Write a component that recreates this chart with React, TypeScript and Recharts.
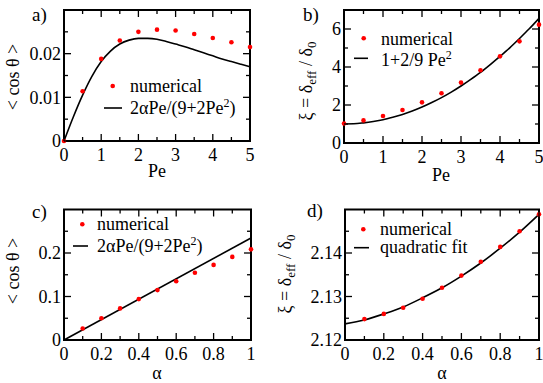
import React from 'react';
import { ComposedChart, Line, XAxis, YAxis, ReferenceArea } from 'recharts';

const FONT = 'Liberation Serif';
const RED = '#ff0000';

// a) <cos theta> against Pe
const peNum = [0, 0.5, 1, 1.5, 2, 2.5, 3, 3.5, 4, 4.5, 5];
const cosNumA = [0, 0.0114, 0.0188, 0.023, 0.025, 0.0255, 0.0253, 0.0245, 0.0236, 0.0226, 0.0215];
const peFit = [0, 0.25, 0.5, 0.75, 1, 1.25, 1.5, 1.75, 2, 2.25, 2.5, 2.75, 3, 3.25, 3.5, 3.75, 4, 4.25, 4.5, 4.75, 5];
const cosFitA = [0, 0.0055, 0.0105, 0.0148, 0.0182, 0.0206, 0.0222, 0.0231, 0.0235, 0.0235, 0.0233, 0.0228, 0.0222, 0.0216, 0.0209, 0.0202, 0.0195, 0.0188, 0.0182, 0.0176, 0.017];

// b) xi against Pe
const xiNumB = [1.03, 1.19, 1.42, 1.74, 2.14, 2.62, 3.18, 3.83, 4.56, 5.35, 6.23];
const xiFitB = [1, 1.01, 1.06, 1.13, 1.22, 1.35, 1.5, 1.68, 1.89, 2.13, 2.39, 2.68, 3, 3.35, 3.72, 4.13, 4.56, 5.01, 5.5, 6.01, 6.56];

// c) <cos theta> against alpha
const alphaNum = [0.1, 0.2, 0.3, 0.4, 0.5, 0.6, 0.7, 0.8, 0.9, 1];
const cosNumC = [0.0266, 0.05, 0.0727, 0.094, 0.1147, 0.135, 0.1545, 0.1727, 0.191, 0.2084];
const alphaFitC = [0, 1];
const cosFitC = [0, 0.2345];

// d) xi against alpha
const xiNumD = [2.1248, 2.126, 2.1274, 2.1295, 2.132, 2.1348, 2.138, 2.1414, 2.145, 2.1489];
const alphaFitD = [0, 0.1, 0.2, 0.3, 0.4, 0.5, 0.6, 0.7, 0.8, 0.9, 1];
const xiFitD = [2.1237, 2.1246, 2.126, 2.1276, 2.1297, 2.132, 2.1347, 2.1377, 2.1411, 2.1448, 2.1489];

// ticks
const peTicks = [0, 0.5, 1, 1.5, 2, 2.5, 3, 3.5, 4, 4.5, 5];
const peMajor = [0, 1, 2, 3, 4, 5];
const alphaTicks = [0, 0.1, 0.2, 0.3, 0.4, 0.5, 0.6, 0.7, 0.8, 0.9, 1];
const alphaMajor = [0, 0.2, 0.4, 0.6, 0.8, 1];
const cosTicksA = [0, 0.005, 0.01, 0.015, 0.02, 0.025];
const cosMajorA = [0, 0.01, 0.02];
const xiTicksB = [0, 1, 2, 3, 4, 5, 6];
const xiMajorB = [0, 2, 4, 6];
const cosTicksC = [0, 0.05, 0.1, 0.15, 0.2, 0.25];
const cosMajorC = [0, 0.1, 0.2];
const xiTicksD = [2.12, 2.125, 2.13, 2.135, 2.14, 2.145];
const xiMajorD = [2.12, 2.13, 2.14];

const rows = (xs: number[], ys: number[]) => xs.map((x, i) => ({ x, y: ys[i] }));
const isMajor = (arr: number[], v: number) => arr.some((m) => Math.abs(m - v) < 1e-9);

const XTick = (props: any) => {
  const { x, y, payload, ph, major } = props;
  const big = isMajor(major, payload.value);
  const len = big ? 7 : 4;
  return (
    <g>
      <line x1={x} y1={y} x2={x} y2={y - len} stroke="#000" strokeWidth={1.3} />
      <line x1={x} y1={y - ph} x2={x} y2={y - ph + len} stroke="#000" strokeWidth={1.3} />
      {big && (
        <text x={x} y={y + 20} textAnchor="middle" fontFamily={FONT} fontSize={18} fill="#000">
          {String(payload.value)}
        </text>
      )}
    </g>
  );
};

const YTick = (props: any) => {
  const { x, y, payload, pw, major } = props;
  const big = isMajor(major, payload.value);
  const len = big ? 7 : 4;
  return (
    <g>
      <line x1={x} y1={y} x2={x + len} y2={y} stroke="#000" strokeWidth={1.3} />
      <line x1={x + pw} y1={y} x2={x + pw - len} y2={y} stroke="#000" strokeWidth={1.3} />
      {big && (
        <text x={x - 3} y={y} dy="0.35em" textAnchor="end" fontFamily={FONT} fontSize={18} fill="#000">
          {String(payload.value)}
        </text>
      )}
    </g>
  );
};

interface PanelProps {
  left: number;
  top: number;
  width: number;
  height: number;
  margin: { top: number; right: number; bottom: number; left: number };
  xDomain: [number, number];
  yDomain: [number, number];
  xTicks: number[];
  xMajor: number[];
  yTicks: number[];
  yMajor: number[];
  points: { x: number; y: number }[];
  curve: { x: number; y: number }[];
  curveType: 'monotone' | 'linear';
}

// margin here is measured to the plot frame; the axes take 1px each
const Panel = (p: PanelProps) => {
  const pw = p.width - p.margin.left - p.margin.right;
  const ph = p.height - p.margin.top - p.margin.bottom;
  const m = { ...p.margin, left: p.margin.left - 1, bottom: p.margin.bottom - 1 };
  return (
    <div style={{ position: 'absolute', left: p.left, top: p.top }}>
      <ComposedChart width={p.width} height={p.height} margin={m}>
        <XAxis
          dataKey="x"
          type="number"
          domain={p.xDomain}
          ticks={p.xTicks}
          interval={0}
          height={1}
          tickSize={0}
          tickMargin={0}
          tickLine={false}
          axisLine={false}
          tick={(t: any) => <XTick {...t} ph={ph} major={p.xMajor} />}
        />
        <YAxis
          type="number"
          domain={p.yDomain}
          ticks={p.yTicks}
          interval={0}
          width={1}
          tickSize={0}
          tickMargin={0}
          tickLine={false}
          axisLine={false}
          tick={(t: any) => <YTick {...t} pw={pw} major={p.yMajor} />}
        />
        <ReferenceArea
          x1={p.xDomain[0]}
          x2={p.xDomain[1]}
          y1={p.yDomain[0]}
          y2={p.yDomain[1]}
          fill="none"
          stroke="#000"
          strokeWidth={2}
          ifOverflow="visible"
        />
        <Line
          data={p.curve}
          dataKey="y"
          type={p.curveType}
          stroke="#000"
          strokeWidth={1.6}
          dot={false}
          activeDot={false}
          isAnimationActive={false}
        />
        <Line
          data={p.points}
          dataKey="y"
          stroke="none"
          dot={{ r: 2.3, fill: RED, stroke: 'none' }}
          activeDot={false}
          isAnimationActive={false}
        />
      </ComposedChart>
    </div>
  );
};

const txt = { fontFamily: FONT, fontSize: 18, fill: '#000' };

const Annotations = () => (
  <svg width={543} height={383} style={{ position: 'absolute', left: 0, top: 0, pointerEvents: 'none' }}>
    {/* panel letters */}
    <text x={32} y={21} {...txt} fontSize={19}>a)</text>
    <text x={303} y={21} {...txt} fontSize={19}>b)</text>
    <text x={32} y={218} {...txt} fontSize={19}>c)</text>
    <text x={307} y={217} {...txt} fontSize={19}>d)</text>

    {/* axis titles */}
    <text x={157} y={177} textAnchor="middle" {...txt}>Pe</text>
    <text x={441} y={181} textAnchor="middle" {...txt}>Pe</text>
    <text x={157} y={379} textAnchor="middle" {...txt}>α</text>
    <text x={442} y={379} textAnchor="middle" {...txt}>α</text>
    <text transform="translate(13,77) rotate(-90)" textAnchor="middle" dy="0.35em" {...txt}>
      {'< cos θ >'}
    </text>
    <text transform="translate(13,271) rotate(-90)" textAnchor="middle" dy="0.35em" {...txt}>
      {'< cos θ >'}
    </text>
    <text transform="translate(306,81) rotate(-90)" textAnchor="middle" dy="0.35em" {...txt}>
      ξ = δ<tspan dy={4} fontSize={13}>eff</tspan>
      <tspan dy={-4}> / δ</tspan>
      <tspan dy={4} fontSize={13}>0</tspan>
    </text>
    <text transform="translate(285,274) rotate(-90)" textAnchor="middle" dy="0.35em" {...txt}>
      ξ = δ<tspan dy={4} fontSize={13}>eff</tspan>
      <tspan dy={-4}> / δ</tspan>
      <tspan dy={4} fontSize={13}>0</tspan>
    </text>

    {/* legend a */}
    <circle cx={112.7} cy={86} r={2.3} fill={RED} />
    <text x={130} y={92} {...txt}>numerical</text>
    <line x1={104} y1={108} x2={122} y2={108} stroke="#000" strokeWidth={1.6} />
    <text x={130} y={114} {...txt}>
      2αPe/(9+2Pe<tspan dy={-7} fontSize={12}>2</tspan>
      <tspan dy={7}>)</tspan>
    </text>

    {/* legend b */}
    <circle cx={363.7} cy={38.3} r={2.3} fill={RED} />
    <text x={381} y={45} {...txt}>numerical</text>
    <line x1={354} y1={58.3} x2={368} y2={58.3} stroke="#000" strokeWidth={1.6} />
    <text x={381} y={66} {...txt}>
      1+2/9 Pe<tspan dy={-7} fontSize={12}>2</tspan>
    </text>

    {/* legend c */}
    <circle cx={82.3} cy={224.3} r={2.3} fill={RED} />
    <text x={97} y={229.5} {...txt}>numerical</text>
    <line x1={73} y1={246} x2={88} y2={246} stroke="#000" strokeWidth={1.6} />
    <text x={97} y={252} {...txt}>
      2αPe/(9+2Pe<tspan dy={-7} fontSize={12}>2</tspan>
      <tspan dy={7}>)</tspan>
    </text>

    {/* legend d */}
    <circle cx={363.3} cy={229.3} r={2.3} fill={RED} />
    <text x={380} y={234.5} {...txt}>numerical</text>
    <line x1={354} y1={247.7} x2={369} y2={247.7} stroke="#000" strokeWidth={1.6} />
    <text x={380} y={252.5} {...txt}>quadratic fit</text>
  </svg>
);

export default function App() {
  return (
    <div style={{ position: 'absolute', left: 0, top: 0, width: 543, height: 383, background: '#fff' }}>
      <Panel
        left={0}
        top={0}
        width={272}
        height={191}
        margin={{ top: 10, right: 22, bottom: 50, left: 64 }}
        xDomain={[0, 5]}
        yDomain={[0, 0.03]}
        xTicks={peTicks}
        xMajor={peMajor}
        yTicks={cosTicksA}
        yMajor={cosMajorA}
        points={rows(peNum, cosNumA)}
        curve={rows(peFit, cosFitA)}
        curveType="monotone"
      />
      <Panel
        left={272}
        top={0}
        width={271}
        height={191}
        margin={{ top: 10, right: 4, bottom: 48, left: 72 }}
        xDomain={[0, 5]}
        yDomain={[0, 7]}
        xTicks={peTicks}
        xMajor={peMajor}
        yTicks={xiTicksB}
        yMajor={xiMajorB}
        points={rows(peNum, xiNumB)}
        curve={rows(peFit, xiFitB)}
        curveType="monotone"
      />
      <Panel
        left={0}
        top={191}
        width={272}
        height={192}
        margin={{ top: 18.5, right: 21, bottom: 43, left: 64 }}
        xDomain={[0, 1]}
        yDomain={[0, 0.3]}
        xTicks={alphaTicks}
        xMajor={alphaMajor}
        yTicks={cosTicksC}
        yMajor={cosMajorC}
        points={rows(alphaNum, cosNumC)}
        curve={rows(alphaFitC, cosFitC)}
        curveType="linear"
      />
      <Panel
        left={272}
        top={191}
        width={271}
        height={192}
        margin={{ top: 18.5, right: 4, bottom: 43, left: 73 }}
        xDomain={[0, 1]}
        yDomain={[2.12, 2.15]}
        xTicks={alphaTicks}
        xMajor={alphaMajor}
        yTicks={xiTicksD}
        yMajor={xiMajorD}
        points={rows(alphaNum, xiNumD)}
        curve={rows(alphaFitD, xiFitD)}
        curveType="monotone"
      />
      <Annotations />
    </div>
  );
}
